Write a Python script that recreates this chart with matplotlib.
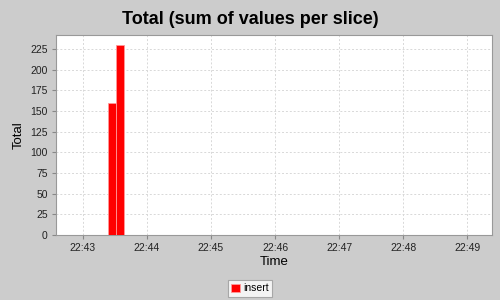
import matplotlib
matplotlib.use("Agg")
import matplotlib.pyplot as plt
import matplotlib.dates as mdates
import pandas as pd

plt.rcParams['font.family'] = ['Liberation Sans', 'DejaVu Sans']

# slice times and summed values
slice_times = pd.to_datetime(["2020-01-01 22:43:27", "2020-01-01 22:43:35"])
slice_totals = [160, 230]
series_name = "insert"
x_start = pd.Timestamp("2020-01-01 22:42:35")
x_end = pd.Timestamp("2020-01-01 22:49:23")
y_top = 242

bg = "#cccccc"
fig = plt.figure(figsize=(5, 3), dpi=100, facecolor=bg)
ax = fig.add_axes([0.112, 0.217, 0.872, 0.666])
ax.set_facecolor("white")

bar_w = 7.5 / 86400
ax.bar(mdates.date2num(slice_times), slice_totals, width=bar_w,
       color="#ff0000", edgecolor="#ff9999", linewidth=0.6, label=series_name, zorder=3)

ax.set_xlim(mdates.date2num(x_start), mdates.date2num(x_end))
ax.set_ylim(0, y_top)
ax.set_yticks(range(0, 226, 25))
ax.xaxis.set_major_locator(mdates.MinuteLocator())
ax.xaxis.set_major_formatter(mdates.DateFormatter("%H:%M"))

ax.grid(True, color="#d8d8d8", linestyle=(0, (2, 2)), linewidth=0.7)
ax.set_axisbelow(True)
for s in ax.spines.values():
    s.set_color("#999999")
    s.set_linewidth(0.8)
ax.tick_params(labelsize=7.5, color="#888888", length=3, pad=3, labelcolor="#222222")

ax.set_xlabel("Time", fontsize=9.5, labelpad=2)
ax.set_ylabel("Total", fontsize=9.5, labelpad=4)
fig.suptitle("Total (sum of values per slice)", fontsize=13, fontweight="bold", y=0.965)

leg = fig.legend(loc="lower center", bbox_to_anchor=(0.5, 0.0), fontsize=7.5,
                 frameon=True, fancybox=False, handlelength=0.8, handleheight=0.8,
                 handletextpad=0.3, borderpad=0.35, borderaxespad=0.3)
leg.get_frame().set_edgecolor("#999999")
leg.get_frame().set_linewidth(0.8)

fig.savefig("out.png", dpi=100, facecolor=bg)
